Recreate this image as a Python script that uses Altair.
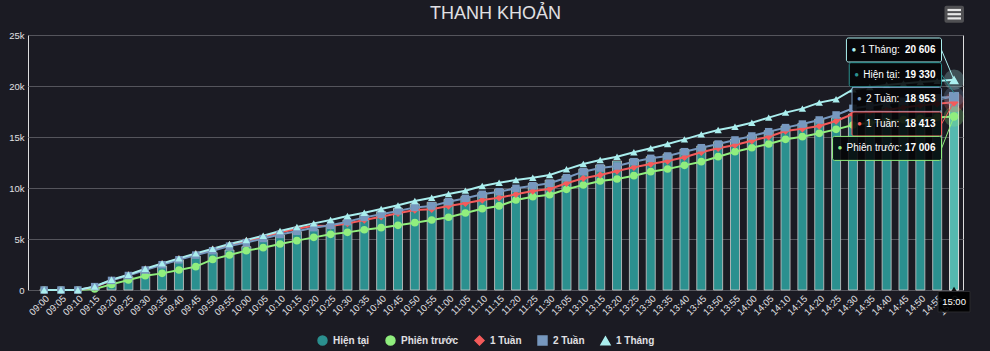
import unicodedata
import altair as alt
import pandas as pd

# ---------------- data ----------------
times = ["09:00", "09:05", "09:10", "09:15", "09:20", "09:25", "09:30", "09:35", "09:40", "09:45", "09:50", "09:55",
         "10:00", "10:05", "10:10", "10:15", "10:20", "10:25", "10:30", "10:35", "10:40", "10:45", "10:50", "10:55",
         "11:00", "11:05", "11:10", "11:15", "11:20", "11:25", "11:30",
         "13:05", "13:10", "13:15", "13:20", "13:25", "13:30", "13:35", "13:40", "13:45", "13:50", "13:55",
         "14:00", "14:05", "14:10", "14:15", "14:20", "14:25", "14:30", "14:35", "14:40", "14:45", "14:50", "14:55", "15:00"]

hien_tai = [0, 0, 0, 240, 800, 1300, 1760, 2350, 2940, 3330, 3660, 3920,
            4250, 4900, 5390, 5720, 5950, 6400, 6860, 7320, 7680, 8010, 8430, 8600,
            8890, 9150, 9540, 9870, 10070, 10460, 10780,
            11180, 11860, 12250, 12650, 12840, 13070, 13330, 13790, 14120, 14540, 14800,
            15200, 15620, 16080, 16340, 16760, 16900, 17250, 17600, 17950, 18350, 18700, 19000, 19330]

phien_truoc = [0, 0, 0, 100, 550, 980, 1400, 1630, 1960, 2290, 3000, 3430,
               3860, 4150, 4510, 4840, 5160, 5460, 5650, 5910, 6110, 6340, 6600, 6860,
               7130, 7550, 7970, 8240, 8820, 9150, 9340,
               9870, 10290, 10690, 10880, 11210, 11600, 11860, 12220, 12580, 13070, 13560,
               13950, 14310, 14770, 15030, 15360, 15750, 16180, 16400, 16550, 16700, 16820, 16920, 17006]

tuan_1 = [0, 0, 0, 300, 960, 1460, 2030, 2550, 3040, 3520, 3960, 4420,
          4800, 5200, 5640, 6000, 6300, 6280, 6530, 6860, 7190, 7520, 7840, 7910,
          8240, 8500, 8820, 9050, 9380, 9710, 9900,
          10460, 10950, 11270, 11670, 12030, 12350, 12650, 13010, 13500, 13890, 14220,
          14640, 15030, 15590, 15820, 16080, 16570, 17250, 17450, 17650, 17900, 18100, 18250, 18413]

tuan_2 = [0, 0, 0, 330, 940, 1420, 1960, 2480, 2960, 3420, 3850, 4300,
          4650, 5050, 5450, 5750, 6110, 6350, 6700, 7120, 7420, 7750, 8100, 8240,
          8660, 8990, 9380, 9640, 9970, 10230, 10460,
          11010, 11600, 11960, 12160, 12580, 12910, 13140, 13560, 13950, 14310, 14710,
          15100, 15520, 15920, 16270, 16670, 17160, 17810, 18050, 18300, 18500, 18700, 18850, 18953]

thang_1 = [0, 0, 0, 350, 1010, 1500, 2090, 2610, 3100, 3590, 4050, 4510,
           4900, 5320, 5780, 6180, 6530, 6860, 7250, 7580, 7940, 8300, 8730, 9050,
           9410, 9740, 10200, 10520, 10780, 11010, 11270,
           11830, 12350, 12750, 13070, 13500, 13890, 14310, 14770, 15260, 15690, 16010,
           16400, 16900, 17390, 17780, 18370, 18700, 19670, 19900, 20100, 20250, 20400, 20500, 20606]

series_names = ["Hiện tại", "Phiên trước", "1 Tuần", "2 Tuần", "1 Tháng"]
series_colors = ["#2b908f", "#90ee7e", "#f45b5b", "#7798bf", "#aaeeee"]
series_shapes = ["circle", "circle", "diamond", "square", "triangle-up"]
y_ticks = [0, 5000, 10000, 15000, 20000, 25000]
title_text = "THANH KHOẢN"

# ---------------- style / layout ----------------
W, H = 935, 255
P_OUTER, ALIGN = 0.245, 0.935
FONT = "Liberation Sans"
TEXT = "#E0E0E3"
BG = "#1b1b23"
GRID = "#55555c"
marker_sizes = [60, 55, 38, 70, 55]
hover_sizes = [60, 100, 70, 120, 130]

all_series = [hien_tai, phien_truoc, tuan_1, tuan_2, thang_1]

df_bar = pd.DataFrame({"time": times, "value": hien_tai, "series": series_names[0]})
df_lines = pd.concat(
    [pd.DataFrame({"time": times, "value": vals, "series": name})
     for name, vals in zip(series_names[1:], all_series[1:])],
    ignore_index=True)
df_last = df_lines[df_lines["time"] == times[-1]]
df_bar_last = df_bar[df_bar["time"] == times[-1]]

color_scale = alt.Scale(domain=series_names, range=series_colors)
shape_scale = alt.Scale(domain=series_names, range=series_shapes)

x_enc = alt.X("time:N", sort=times, title=None,
              scale=alt.Scale(paddingInner=0, paddingOuter=P_OUTER, align=ALIGN),
              axis=alt.Axis(labelAngle=-45, labelFontSize=9.5, labelColor=TEXT, labelFont=FONT,
                            ticks=False, domain=True, domainColor=GRID, labelPadding=3,
                            grid=False, labelOverlap=False))
y_enc = alt.Y("value:Q", title=None, scale=alt.Scale(domain=[0, 25000], nice=False),
              axis=alt.Axis(values=y_ticks,
                            labelExpr="datum.value == 0 ? '0' : (datum.value / 1000) + 'k'",
                            labelFontSize=9.5, labelColor=TEXT, labelFont=FONT, labelPadding=4,
                            ticks=False, domain=False, grid=True, gridColor=GRID, gridWidth=1))

col = alt.Color("series:N", scale=color_scale)
shp = alt.Shape("series:N", scale=shape_scale)

bars = alt.Chart(df_bar).mark_bar(width=9, stroke="#c4c4c4", strokeWidth=1, strokeOpacity=0.85).encode(
    x=x_enc, y=y_enc, color=col)
bar_hl = alt.Chart(df_bar_last).mark_bar(width=9, color="#55b9af", stroke="#d8d8d8", strokeWidth=1).encode(
    x=x_enc, y=y_enc)
lines = alt.Chart(df_lines).mark_line(strokeWidth=2).encode(x=x_enc, y=y_enc, color=col)
points = alt.Chart(df_lines).mark_point(filled=True, opacity=1).encode(
    x=x_enc, y=y_enc, color=col, shape=shp,
    size=alt.Size("series:N", scale=alt.Scale(domain=series_names, range=marker_sizes), legend=None))
halo = alt.Chart(df_last).mark_circle(size=420, opacity=0.25).encode(x=x_enc, y=y_enc, color=col)
big_pts = alt.Chart(df_last).mark_point(filled=True, opacity=1).encode(
    x=x_enc, y=y_enc, color=col, shape=shp,
    size=alt.Size("series:N", scale=alt.Scale(domain=series_names, range=hover_sizes), legend=None))

main = alt.layer(bars, bar_hl, lines, points, halo, big_pts).resolve_scale(size="independent")

# ---------------- hover tooltip overlay (pixel space of plot area) ----------------
n = len(times)
step = W / (n + 2 * P_OUTER)
start = (W - step * n) * ALIGN
last_px = start + step * (n - 0.5)


def py(v):
    return H * (1 - v / 25000)


NARROW = {"i": 222, "l": 222, "t": 278, "f": 278, "j": 222, "r": 333, " ": 278, ":": 278,
          "c": 500, "k": 500, "s": 500, "v": 500, "x": 500, "y": 500, "z": 500,
          "T": 611, "H": 722, "P": 667, "K": 667, "N": 722, "A": 667, "O": 778}


def text_w(s, size):
    tot = 0
    for ch in s:
        base = unicodedata.normalize("NFD", ch)[0]
        tot += NARROW.get(base, 556)
    return tot * size / 1000


def fmt(v):
    return f"{v:,}".replace(",", " ")


tip_rows = sorted(zip(series_names, series_colors, [s[-1] for s in all_series]), key=lambda r: -r[2])
box_right = 913.5
slot_cy = [15, 39.7, 64.4, 89, 113.4]
tips = []
for k, (name, colr, v) in enumerate(tip_rows):
    name_lbl = name + ":"
    val_lbl = fmt(v)
    wbox = 5 + 6 + 4 + text_w(name_lbl, 10) + 4 + text_w(val_lbl, 10) + 6
    left = box_right - wbox
    cy = slot_cy[k]
    tips.append({"name": name_lbl, "val": val_lbl, "color": colr, "left": left, "right": box_right,
                 "top": cy - 12, "bottom": cy + 12, "cy": cy, "bx": left + 5, "nx": left + 14,
                 "vx": box_right - 6, "px": last_px, "py": py(v)})
df_tip = pd.DataFrame(tips)

ovx = lambda f: alt.X(f"{f}:Q", scale=alt.Scale(domain=[0, W]), axis=None)
ovy = lambda f: alt.Y(f"{f}:Q", scale=alt.Scale(domain=[0, H], range=[0, H]), axis=None)

connectors = alt.Chart(df_tip).mark_rule(strokeWidth=1).encode(
    x=ovx("right"), y=ovy("cy"), x2="px:Q", y2="py:Q", color=alt.Color("color:N", scale=None))
boxes = alt.Chart(df_tip).mark_rect(fill="#050507", fillOpacity=0.88, strokeWidth=1, cornerRadius=2).encode(
    x=ovx("left"), x2="right:Q", y=ovy("top"), y2="bottom:Q", stroke=alt.Stroke("color:N", scale=None))
bullets = alt.Chart(df_tip).mark_text(text="●", fontSize=8, align="left", baseline="middle").encode(
    x=ovx("bx"), y=ovy("cy"), color=alt.Color("color:N", scale=None))
names = alt.Chart(df_tip).mark_text(fontSize=10, font=FONT, align="left", baseline="middle", color="#ffffff").encode(
    x=ovx("nx"), y=ovy("cy"), text="name:N")
vals = alt.Chart(df_tip).mark_text(fontSize=10, font=FONT, fontWeight="bold", align="right", baseline="middle",
                                   color="#ffffff").encode(
    x=ovx("vx"), y=ovy("cy"), text="val:N")

df_xlab = pd.DataFrame({"left": [last_px - 16], "right": [last_px + 16], "top": [H + 1.5], "bottom": [H + 22],
                        "cx": [last_px], "cy": [H + 11.5], "ty": [H - 1], "label": [times[-1]]})
xlab_tri = alt.Chart(df_xlab).mark_point(shape="triangle-up", size=30, filled=True, color="#000000", opacity=0.9).encode(
    x=ovx("cx"), y=ovy("ty"))
xlab_box = alt.Chart(df_xlab).mark_rect(fill="#000000", fillOpacity=0.9, stroke="#2a2a2e", strokeWidth=1).encode(
    x=ovx("left"), x2="right:Q", y=ovy("top"), y2="bottom:Q")
xlab_txt = alt.Chart(df_xlab).mark_text(fontSize=9.5, font=FONT, color="#ffffff", baseline="middle").encode(
    x=ovx("cx"), y=ovy("cy"), text="label:N")

df_menu = pd.DataFrame({"left": [916.5], "right": [936], "top": [-29.3], "bottom": [-12.3]})
df_menu_lines = pd.DataFrame({"x1": [919.5] * 3, "x2": [933] * 3, "y": [-25, -20.8, -16.6]})
menu_box = alt.Chart(df_menu).mark_rect(fill="#505053", cornerRadius=2).encode(
    x=ovx("left"), x2="right:Q", y=ovy("top"), y2="bottom:Q")
menu_lines = alt.Chart(df_menu_lines).mark_rule(strokeWidth=2.2, color="#e6e6e6").encode(
    x=ovx("x1"), x2="x2:Q", y=ovy("y"))

overlay = alt.layer(connectors, boxes, bullets, names, vals, xlab_tri, xlab_box, xlab_txt, menu_box, menu_lines)

chart = alt.layer(main, overlay).resolve_scale(x="independent", y="independent").properties(
    width=W, height=H,
    title=alt.Title(title_text, anchor="middle", fontSize=18, font=FONT, fontWeight="normal", color=TEXT,
                    offset=0, baseline="alphabetic", dy=31),
    padding={"left": 28, "top": 35, "right": 27, "bottom": 61},
    autosize=alt.AutoSizeParams(type="none"),
    background=BG,
).configure_view(stroke=None).configure(font=FONT).configure_legend(
    title=None, orient="none", legendX=289, legendY=300, direction="horizontal",
    labelColor=TEXT, labelFont=FONT, labelFontSize=10, labelFontWeight="bold",
    symbolSize=80, columnPadding=13, labelOffset=5, padding=0)

chart.save("out.html", embed_options={"renderer": "svg", "actions": False})
